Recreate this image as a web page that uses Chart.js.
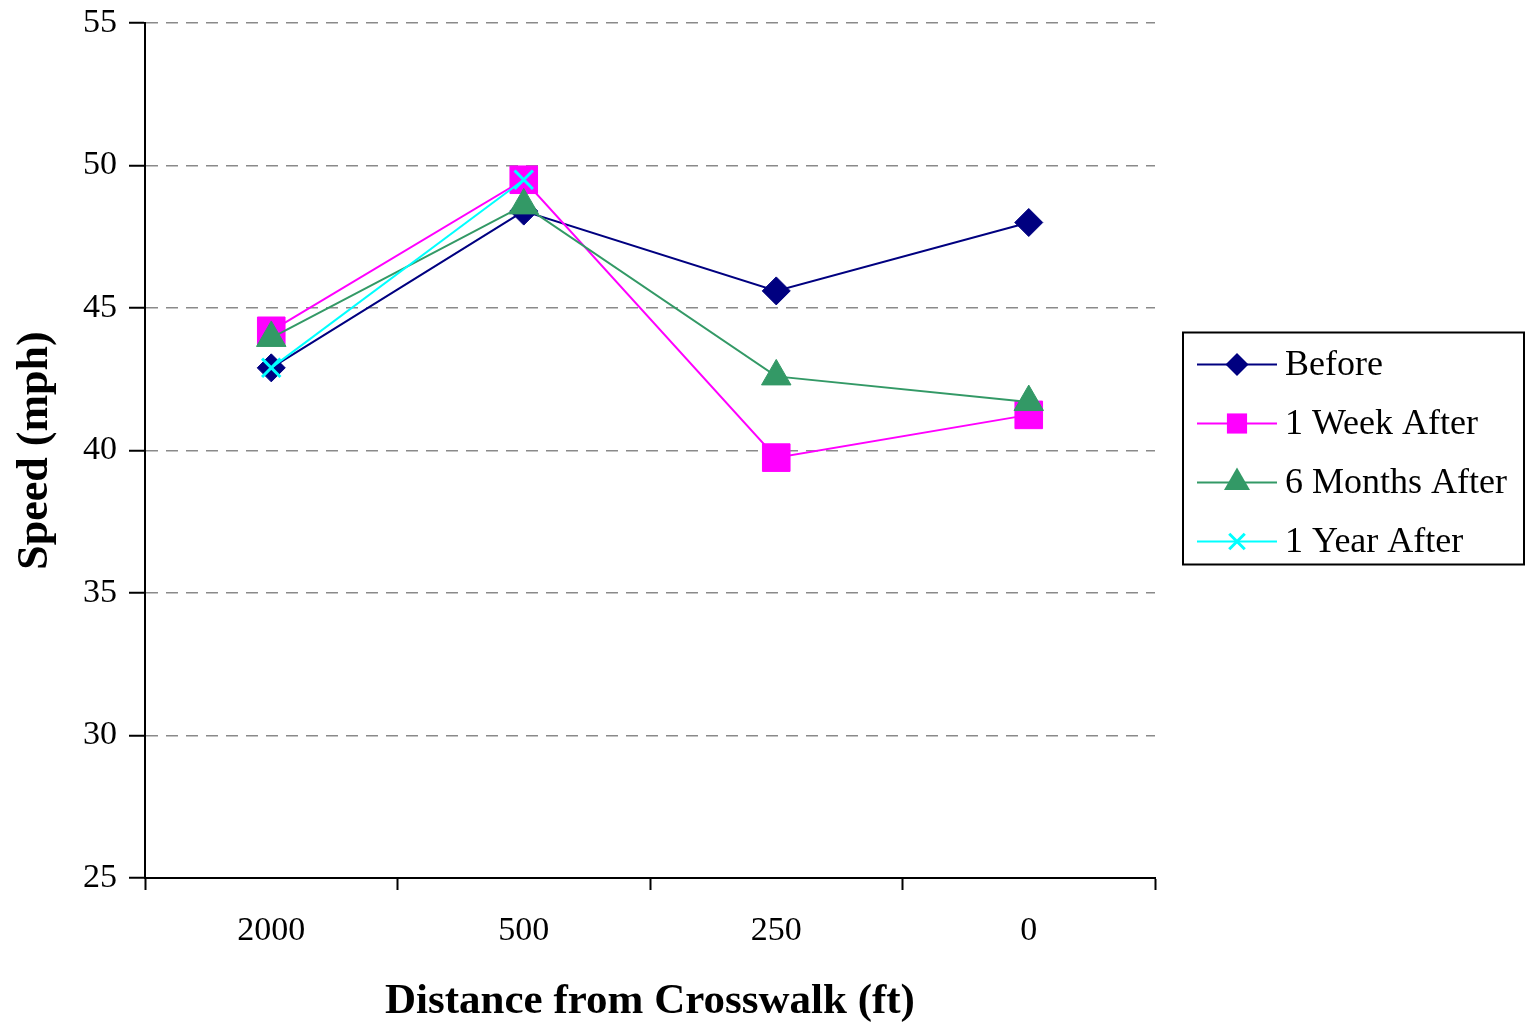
<!DOCTYPE html>
<html>
<head>
<meta charset="utf-8">
<script src="https://cdn.jsdelivr.net/npm/chart.js@4/dist/chart.umd.min.js"></script>
<style>
  html, body { margin: 0; padding: 0; background: #ffffff; }
  #wrap { width: 1525px; height: 1026px; position: relative; }
</style>
</head>
<body>
<div id="wrap"><canvas id="c" width="1525" height="1026"></canvas></div>
<script>
const categories = ["2000", "500", "250", "0"];
const seriesNames = ["Before", "1 Week After", "6 Months After", "1 Year After"];
const before = [42.9, 48.4, 45.6, 48.0];
const weekAfter = [44.2, 49.5, 39.75, 41.25];
const monthsAfter = [43.95, 48.6, 42.6, 41.7];
const yearAfter = [42.9, 49.5, null, null];
const yTicks = [25, 30, 35, 40, 45, 50, 55];

const serif = "'Liberation Serif', 'Times New Roman', serif";

const styles = [
  { color: '#000080', point: 'rectRot', r: 14, lr: 11.5, bw: 1 },
  { color: '#FF00FF', point: 'rect', r: 19.5, lr: 14, bw: 1 },
  { color: '#339966', point: 'triangle', r: 17, lr: 15, bw: 1 },
  { color: '#00FFFF', point: 'crossRot', r: 13, lr: 11, bw: 3 }
];
const values = [before, weekAfter, monthsAfter, yearAfter];

const datasets = values.map((v, i) => ({
  label: seriesNames[i],
  data: v,
  borderColor: styles[i].color,
  backgroundColor: styles[i].color,
  pointBackgroundColor: styles[i].color,
  pointBorderColor: styles[i].color,
  pointStyle: styles[i].point,
  pointRadius: styles[i].r,
  pointBorderWidth: styles[i].bw,
  borderWidth: 2,
  fill: false,
  tension: 0,
  spanGaps: false,
  order: 4 - i
}));

function drawMarker(ctx, style, r, x, y) {
  ctx.beginPath();
  if (style === 'rectRot') {
    ctx.moveTo(x, y - r); ctx.lineTo(x + r, y); ctx.lineTo(x, y + r); ctx.lineTo(x - r, y); ctx.closePath();
    ctx.fill();
  } else if (style === 'rect') {
    ctx.rect(x - r * 0.72, y - r * 0.72, r * 1.44, r * 1.44);
    ctx.fill();
  } else if (style === 'triangle') {
    ctx.moveTo(x, y - r);
    ctx.lineTo(x + r * 0.866, y + r * 0.5);
    ctx.lineTo(x - r * 0.866, y + r * 0.5);
    ctx.closePath();
    ctx.fill();
  } else if (style === 'crossRot') {
    const d = r * 0.707;
    ctx.lineWidth = 3;
    ctx.moveTo(x - d, y - d); ctx.lineTo(x + d, y + d);
    ctx.moveTo(x + d, y - d); ctx.lineTo(x - d, y + d);
    ctx.stroke();
  }
}

const legendPlugin = {
  id: 'boxLegend',
  afterDraw(chart) {
    const ctx = chart.ctx;
    const ca = chart.chartArea;
    const bx = ca.right + 28, bw = 341, bh = 232;
    const by = (ca.top + ca.bottom) / 2 - bh / 2 - 2;
    ctx.save();
    ctx.fillStyle = '#ffffff';
    ctx.fillRect(bx, by, bw, bh);
    ctx.strokeStyle = '#000000';
    ctx.lineWidth = 2;
    ctx.strokeRect(bx, by, bw, bh);
    ctx.font = "36px " + serif;
    ctx.textBaseline = 'middle';
    ctx.textAlign = 'left';
    for (let i = 0; i < seriesNames.length; i++) {
      const y = by + 32 + i * 59;
      const st = styles[i];
      ctx.strokeStyle = st.color;
      ctx.fillStyle = st.color;
      ctx.lineWidth = 2;
      ctx.beginPath();
      ctx.moveTo(bx + 14, y); ctx.lineTo(bx + 94, y);
      ctx.stroke();
      drawMarker(ctx, st.point, st.lr, bx + 54, y);
      ctx.fillStyle = '#000000';
      ctx.fillText(seriesNames[i], bx + 102, y + 1);
    }
    ctx.restore();
  }
};

const bgPlugin = {
  id: 'bg',
  beforeDraw(chart) {
    const ctx = chart.ctx;
    ctx.save();
    ctx.fillStyle = '#ffffff';
    ctx.fillRect(0, 0, chart.width, chart.height);
    ctx.restore();
  }
};

new Chart(document.getElementById('c'), {
  type: 'line',
  data: { labels: categories, datasets: datasets },
  plugins: [bgPlugin, legendPlugin],
  options: {
    responsive: false,
    animation: false,
    devicePixelRatio: 1,
    layout: { padding: { left: 0, top: 23, right: 370, bottom: 0 } },
    plugins: { legend: { display: false }, tooltip: { enabled: false } },
    scales: {
      x: {
        type: 'category',
        offset: true,
        grid: { offset: true, drawOnChartArea: false, drawTicks: true, tickLength: 12, tickColor: '#000000', tickWidth: 2 },
        border: { display: true, color: '#000000', width: 2 },
        ticks: { color: '#000000', font: { family: serif, size: 34 }, padding: 21, maxRotation: 0 },
        title: { display: true, text: 'Distance from Crosswalk (ft)', color: '#000000', font: { family: serif, size: 43, weight: 'bold', lineHeight: 1.1 }, padding: { top: 0, bottom: 0 } },
        afterFit(scale) { scale.height = 148; scale.paddingLeft = 0; scale.paddingRight = 0; }
      },
      y: {
        min: 25,
        max: 55,
        afterBuildTicks(scale) { scale.ticks = yTicks.map(v => ({ value: v })); },
        grid: { color: '#8a8a8a', lineWidth: 1.5, drawTicks: true, tickLength: 16, tickColor: '#000000', tickWidth: 2, tickBorderDash: [] },
        border: { display: true, color: '#000000', width: 2, dash: [12, 8] },
        ticks: { color: '#000000', font: { family: serif, size: 34 }, padding: 12 },
        title: { display: true, text: 'Speed (mph)', color: '#000000', font: { family: serif, size: 44, weight: 'bold', lineHeight: 1.2 }, padding: { top: 9, bottom: 0 } },
        afterFit(scale) { scale.width = 145; scale.paddingTop = 0; scale.paddingBottom = 0; }
      }
    }
  }
});
</script>
</body>
</html>
